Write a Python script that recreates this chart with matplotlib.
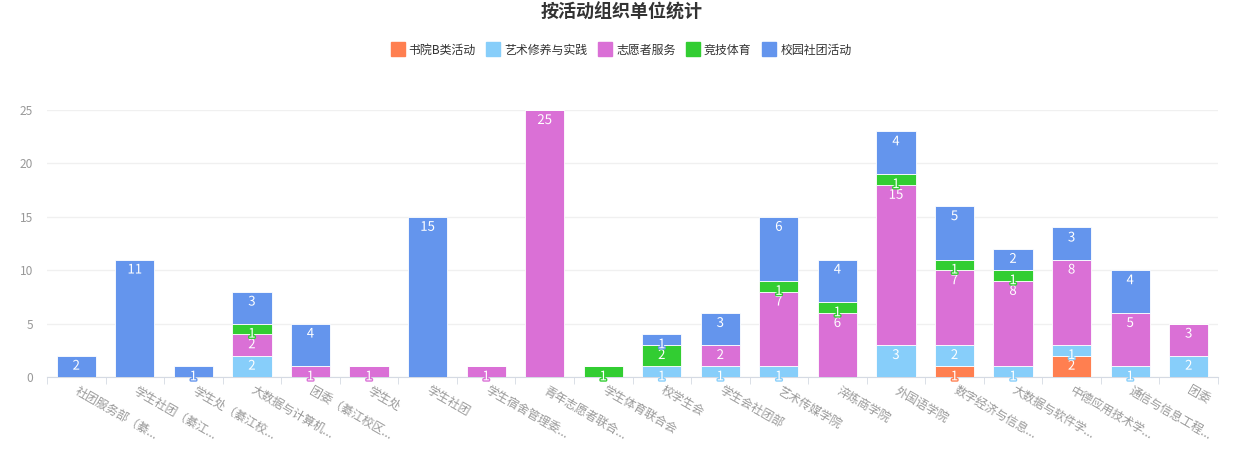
import matplotlib
matplotlib.use("Agg")
import matplotlib.pyplot as plt
import matplotlib.patheffects as pe
from matplotlib.lines import Line2D
import numpy as np

plt.rcParams['font.family'] = ['Noto Sans CJK SC', 'DejaVu Sans']

units = ['社团服务部（綦...', '学生社团（綦江...', '学生处（綦江校...', '大数据与计算机...',
         '团委（綦江校区...', '学生处', '学生社团', '学生宿舍管理委...', '青年志愿者联合...',
         '学生体育联合会', '校学生会', '学生会社团部', '艺术传媒学院', '淬炼商学院',
         '外国语学院', '数字经济与信息...', '大数据与软件学...', '中德应用技术学...',
         '通信与信息工程...', '团委']

series_names = ['书院B类活动', '艺术修养与实践', '志愿者服务', '竞技体育', '校园社团活动']
colors = ['#FF7F50', '#87CEFA', '#DA70D6', '#32CD32', '#6495ED']

shuyuan = [0, 0, 0, 0, 0, 0, 0, 0, 0, 0, 0, 0, 0, 0, 0, 1, 0, 2, 0, 0]
yishu   = [0, 0, 0, 2, 0, 0, 0, 0, 0, 0, 1, 1, 1, 0, 3, 2, 1, 1, 1, 2]
zhiyuan = [0, 0, 0, 2, 1, 1, 0, 1, 25, 0, 0, 2, 7, 6, 15, 7, 8, 8, 5, 3]
jingji  = [0, 0, 0, 1, 0, 0, 0, 0, 0, 1, 2, 0, 1, 1, 1, 1, 1, 0, 0, 0]
shetuan = [2, 11, 1, 3, 4, 0, 15, 0, 0, 0, 1, 3, 6, 4, 4, 5, 2, 3, 4, 0]

all_series = [shuyuan, yishu, zhiyuan, jingji, shetuan]

fig = plt.figure(figsize=(12.43, 4.5), dpi=100)
ax = fig.add_axes([47 / 1243, 73 / 450, (1218 - 47) / 1243, (377 - 110) / 450])

x = np.arange(len(units))
bottom = np.zeros(len(units))
for vals, name, c in zip(all_series, series_names, colors):
    vals = np.array(vals)
    ax.bar(x, vals, 0.67, bottom=bottom, color=c, edgecolor='white',
           linewidth=0.6, label=name, zorder=3)
    for i, v in enumerate(vals):
        if v > 0:
            ax.annotate(str(v), (x[i], bottom[i] + v), xytext=(0, -4),
                        textcoords='offset pixels', ha='center', va='top',
                        color='white', fontsize=9.5, zorder=5,
                        path_effects=[pe.withStroke(linewidth=2, foreground=c)])
    bottom += vals

ax.set_xlim(-0.5, len(units) - 0.5)
ax.set_ylim(0, 25)
ax.set_yticks([0, 5, 10, 15, 20, 25])
ax.grid(axis='y', color='#F0F0F0', linewidth=1, zorder=0)
for s in ['top', 'right', 'left']:
    ax.spines[s].set_visible(False)
ax.spines['bottom'].set_color('#D5DAE3')
ax.tick_params(axis='y', length=0, labelcolor='#999999', labelsize=8.6, pad=10)

ax.set_xticks(x)
ax.set_xticklabels(units)
ax.set_xticks(np.arange(len(units) + 1) - 0.5, minor=True)
ax.tick_params(axis='x', which='major', length=0, labelcolor='#999999',
               labelsize=8.6, pad=9)
ax.tick_params(axis='x', which='minor', length=5, color='#D5DAE3')
plt.setp(ax.get_xticklabels(), rotation=-30, ha='left', va='center',
         rotation_mode='anchor')

fig.text(0.5, 1 - 12 / 450, '按活动组织单位统计', ha='center', va='center',
         fontsize=13, fontweight='bold', color='#333333')

handles = [Line2D([], [], marker='s', linestyle='none', markersize=10,
                  markerfacecolor=c, markeredgecolor=c) for c in colors]
fig.legend(handles, series_names, loc='center', bbox_to_anchor=(0.5, 1 - 50 / 450),
           ncol=5, frameon=False, fontsize=8.6, handlelength=1.0,
           handletextpad=0.4, columnspacing=1.0, labelcolor='#333333')

fig.savefig('out.png', dpi=100)
